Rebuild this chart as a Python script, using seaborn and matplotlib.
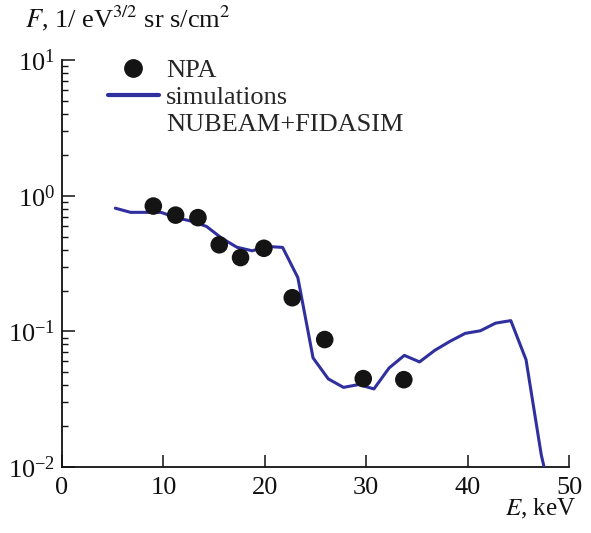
import numpy as np
import pandas as pd
import matplotlib
matplotlib.use("Agg")
import matplotlib.pyplot as plt
import seaborn as sns
from matplotlib.lines import Line2D
from matplotlib.ticker import LogLocator, LogFormatterMathtext, FixedLocator

# Data
npa_E = [9.0, 11.2, 13.4, 15.5, 17.6, 19.9, 22.7, 25.9, 29.7, 33.7]
npa_F = [0.84, 0.72, 0.69, 0.435, 0.35, 0.41, 0.177, 0.087, 0.0448, 0.044]

sim_E = [5.25, 6.75, 8.25, 9.75, 11.25, 12.75, 14.25, 15.75, 17.25, 18.75,
         20.25, 21.75, 23.25, 24.75, 26.25, 27.75, 29.25, 30.75, 32.25, 33.75,
         35.25, 36.75, 38.25, 39.75, 41.25, 42.75, 44.25, 45.75, 47.25, 48.0]
sim_F = [0.81, 0.755, 0.755, 0.755, 0.69, 0.65, 0.594, 0.486, 0.417, 0.393,
         0.423, 0.416, 0.249, 0.0637, 0.0446, 0.0386, 0.0405, 0.0376, 0.0537, 0.0665,
         0.0595, 0.0724, 0.0844, 0.0966, 0.101, 0.115, 0.12, 0.0618, 0.0123, 0.007]

x_ticks = [0, 10, 20, 30, 40, 50]

sns.set_style("ticks")
plt.rcParams['font.family'] = ['Liberation Serif', 'DejaVu Serif']
plt.rcParams['mathtext.fontset'] = 'stix'

fig = plt.figure(figsize=(5.91, 5.33), dpi=100)
ax = fig.add_axes([0.105, 0.124, 0.858, 0.763])

sim_df = pd.DataFrame({"E": sim_E, "F": sim_F})
npa_df = pd.DataFrame({"E": npa_E, "F": npa_F})

line_color = "#2f2f9f"
sns.lineplot(data=sim_df, x="E", y="F", ax=ax, color=line_color, linewidth=2.2,
             zorder=3, sort=False)
sns.scatterplot(data=npa_df, x="E", y="F", ax=ax, color="#141414", s=160,
                edgecolor="none", zorder=4)

ax.set_yscale("log")
ax.set_xlim(0, 50)
ax.set_ylim(1e-2, 1e1)
ax.xaxis.set_major_locator(FixedLocator(x_ticks))
ax.yaxis.set_major_locator(LogLocator(base=10, numticks=10))
ax.yaxis.set_minor_locator(LogLocator(base=10, subs=np.arange(2, 10), numticks=20))
ax.yaxis.set_major_formatter(LogFormatterMathtext())
ax.yaxis.set_minor_formatter(plt.NullFormatter())

ax.tick_params(axis="both", which="major", direction="in", length=9, width=1.1,
               labelsize=19, colors="#111111")
ax.tick_params(axis="y", which="minor", direction="in", length=4.5, width=1.0,
               colors="#111111")
ax.tick_params(axis="x", which="major", pad=7)
ax.tick_params(axis="y", which="major", pad=5)
for lab in ax.get_xticklabels() + ax.get_yticklabels():
    lab.set_fontfamily(['Liberation Serif'])

sns.despine(ax=ax)
for sp in ["left", "bottom"]:
    ax.spines[sp].set_linewidth(1.3)
    ax.spines[sp].set_color("#111111")

ax.set_xlabel("")
ax.set_ylabel("")
fig.text(0.042, 0.966, r"$F$, 1/ eV$^{3/2}$ sr s/cm$^2$", fontsize=19,
         ha="left", va="center", color="#111111")
fig.text(0.975, 0.046, r"$E$, keV", fontsize=18, ha="right", va="center",
         color="#111111")

handles = [
    Line2D([], [], marker="o", linestyle="none", color="#141414", markersize=12.5),
    Line2D([], [], color=line_color, linewidth=3),
    Line2D([], [], color="none"),
]
labels = ["NPA", "simulations", "NUBEAM+FIDASIM"]
ax.legend(handles, labels, loc="upper left", bbox_to_anchor=(0.069, 1.03),
          frameon=False, fontsize=19, handlelength=1.95, handletextpad=0.27,
          labelspacing=0.14, borderaxespad=0)

fig.savefig("out.png", dpi=100)
